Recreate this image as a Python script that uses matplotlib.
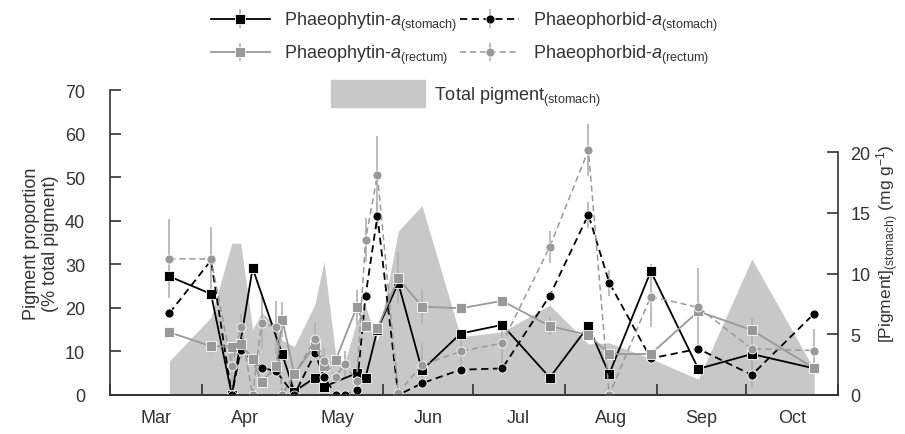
import matplotlib
matplotlib.use('Agg')
import matplotlib.pyplot as plt
from matplotlib.patches import Patch

plt.rcParams['font.family'] = ['Liberation Sans', 'DejaVu Sans']
plt.rcParams['mathtext.fontset'] = 'custom'
plt.rcParams['mathtext.rm'] = 'Liberation Sans'
plt.rcParams['mathtext.it'] = 'Liberation Sans:italic'

TXT = '#333333'

# x = days since 1 March
month_starts = [0, 31, 61, 92, 122, 153, 184, 214, 245]
month_mids = [15.5, 45.5, 76.5, 107, 137.5, 168.5, 199, 229.5]
month_labels = ['Mar', 'Apr', 'May', 'Jun', 'Jul', 'Aug', 'Sep', 'Oct']

# Phaeophytin-a (stomach), % total pigment
phy_sto_day = [20, 34, 41, 48, 58, 62, 69, 72, 83, 86, 90, 97, 105, 118, 132, 148, 161, 168, 182, 198, 216, 237]
phy_sto_val = [27.2, 23.2, 0, 29.1, 9.3, 0.8, 4.0, 1.9, 5.0, 4.0, 15.0, 25.7, 5.7, 14.1, 16.1, 4.0, 15.8, 4.8, 28.4, 6.0, 9.4, 6.1]
phy_sto_err = [0, 0, 0, 0.8, 0, 0, 0, 0, 0, 0, 0, 0, 0, 0, 0, 0, 0, 0, 1.6, 0, 0, 0]

# Phaeophorbid-a (stomach)
pho_sto_day = [20, 34, 41, 44, 51, 56, 62, 69, 72, 76, 79, 83, 86, 90, 97, 105, 118, 132, 148, 161, 168, 182, 198, 216, 237]
pho_sto_val = [18.8, 30.9, 0, 10.3, 6.3, 5.4, 0, 9.6, 4.2, 0, 0, 1.2, 22.8, 41.1, 0, 2.7, 5.8, 6.1, 22.8, 41.4, 25.8, 8.4, 10.6, 4.6, 18.7]
pho_sto_err = [0, 0, 0, 2, 0, 0, 0, 0, 0, 0, 0, 0, 0, 3, 0, 0, 0, 0, 0, 3, 3, 0, 0, 3, 0]

# Phaeophytin-a (rectum)
phy_rec_day = [20, 34, 41, 44, 48, 51, 56, 58, 62, 69, 72, 76, 83, 86, 90, 97, 105, 118, 132, 148, 161, 168, 182, 198, 216, 237]
phy_rec_val = [14.4, 11.2, 11.1, 11.7, 8.3, 2.9, 6.7, 17.3, 4.8, 11.5, 6.6, 8.1, 20.1, 15.8, 15.3, 26.8, 20.3, 19.9, 21.6, 15.8, 13.8, 9.4, 9.4, 19.2, 14.9, 6.1]
phy_rec_err = [0, 1.5, 0, 0, 0, 0, 0, 4, 0, 0, 0, 0, 4, 0, 0, 6, 4, 0, 0, 2, 0, 0, 0, 0, 0, 0]

# Phaeophorbid-a (rectum)
pho_rec_day = [20, 34, 41, 44, 48, 51, 56, 58, 69, 72, 76, 79, 83, 86, 90, 97, 105, 118, 132, 148, 161, 168, 182, 198, 216, 237]
pho_rec_val = [31.3, 31.2, 6.7, 15.5, 0, 16.5, 15.5, 0, 12.8, 7.9, 4.2, 7.1, 3.3, 35.6, 50.5, 0.5, 6.9, 10.0, 11.9, 34.0, 56.2, 0, 22.6, 20.1, 10.6, 10.2]
pho_rec_err = [9, 7.4, 4, 3, 0, 6, 6, 0, 4, 3, 0, 3, 3, 5, 9, 0, 5, 4, 5, 3.7, 6, 0, 7, 9, 7, 5]

# Total pigment (stomach), mg g-1
tot_day = [20, 34, 41, 44, 48, 51, 56, 58, 62, 69, 72, 76, 79, 83, 86, 90, 97, 105, 118, 132, 148, 161, 168, 182, 198, 216, 237]
tot_val = [2.8, 6.4, 12.5, 12.5, 5.4, 6.8, 5.7, 4.5, 4.0, 7.5, 11.0, 3.2, 2.7, 6.0, 7.3, 4.4, 13.5, 15.6, 4.8, 5.2, 7.4, 4.2, 4.3, 3.0, 1.3, 11.2, 2.1]

fig = plt.figure(figsize=(9.05, 4.35), dpi=100)
ax = fig.add_axes([110/905, 1-396/435, 728/905, 305/435])
ax2 = ax.twinx()
ax.set_zorder(ax2.get_zorder() + 1)
ax.patch.set_visible(False)

ax2.fill_between(tot_day, tot_val, 0, color='#c8c8c8', lw=0)
ax2.set_ylim(0, 25.13)
ax2.set_yticks([0, 5, 10, 15, 20])
ax2.spines['right'].set_bounds(0, 20)

ecol = '#b0b0b0'
common = dict(capsize=0, elinewidth=1.2, ecolor=ecol, ms=6.5, mec='white', mew=0.6)
h1 = ax.errorbar(phy_sto_day, phy_sto_val, yerr=phy_sto_err, fmt='s-', color='black', lw=1.3, **common)
h2 = ax.errorbar(pho_sto_day, pho_sto_val, yerr=pho_sto_err, fmt='o--', color='black', lw=1.3, dashes=(4, 2.5), **common)
h3 = ax.errorbar(phy_rec_day, phy_rec_val, yerr=phy_rec_err, fmt='s-', color='#999999', lw=1.3, **common)
h4 = ax.errorbar(pho_rec_day, pho_rec_val, yerr=pho_rec_err, fmt='o--', color='#999999', lw=1.1, dashes=(4, 2.5), **common)

ax.set_xlim(0, 245)
ax.set_ylim(0, 70)
ax.set_yticks(range(0, 71, 10))
ax.set_xticks(month_starts)
ax.set_xticklabels([])
ax.set_xticks(month_mids, minor=True)
ax.set_xticklabels(month_labels, minor=True)
ax.tick_params(axis='both', which='major', direction='in', length=8, width=1.2, colors='#333333', labelsize=13)
ax.tick_params(axis='x', which='minor', length=0, pad=10, labelsize=13, labelcolor=TXT)
ax.tick_params(axis='y', pad=18)
ax2.tick_params(axis='y', direction='in', length=8, width=1.2, colors='#333333', labelsize=13, pad=9)

for a in (ax, ax2):
    a.spines['top'].set_visible(False)
    for s in a.spines.values():
        s.set_color('#333333')
        s.set_linewidth(1.2)
ax.spines['right'].set_visible(False)
ax2.spines['left'].set_visible(False)

ax.set_ylabel('Pigment proportion\n(% total pigment)', fontsize=13, color=TXT, labelpad=4)
ax2.set_ylabel(r'[Pigment]$_{\mathrm{(stomach)}}$ (mg g$^{-1}$)', fontsize=12.5, color=TXT, labelpad=3)

labels = [r'Phaeophytin-$\mathit{a}_{\mathrm{(stomach)}}$', r'Phaeophytin-$\mathit{a}_{\mathrm{(rectum)}}$',
          r'Phaeophorbid-$\mathit{a}_{\mathrm{(stomach)}}$', r'Phaeophorbid-$\mathit{a}_{\mathrm{(rectum)}}$']
leg = fig.legend([h1, h3, h2, h4], labels, ncol=2, loc='upper left', bbox_to_anchor=(198/905, 1 + 2/435),
                 frameon=False, fontsize=13, handlelength=3.3, handletextpad=0.75, columnspacing=0.15,
                 labelspacing=0.55, borderaxespad=0.3)
for t in leg.get_texts():
    t.set_color(TXT)
leg2 = fig.legend([Patch(color='#c8c8c8')], [r'Total pigment$_{\mathrm{(stomach)}}$'], loc='center',
                  bbox_to_anchor=(0.515, 1-95/435), frameon=False, fontsize=13, handlelength=5.2,
                  handleheight=1.9, handletextpad=0.5)
for t in leg2.get_texts():
    t.set_color(TXT)

fig.savefig('out.png', dpi=100)
